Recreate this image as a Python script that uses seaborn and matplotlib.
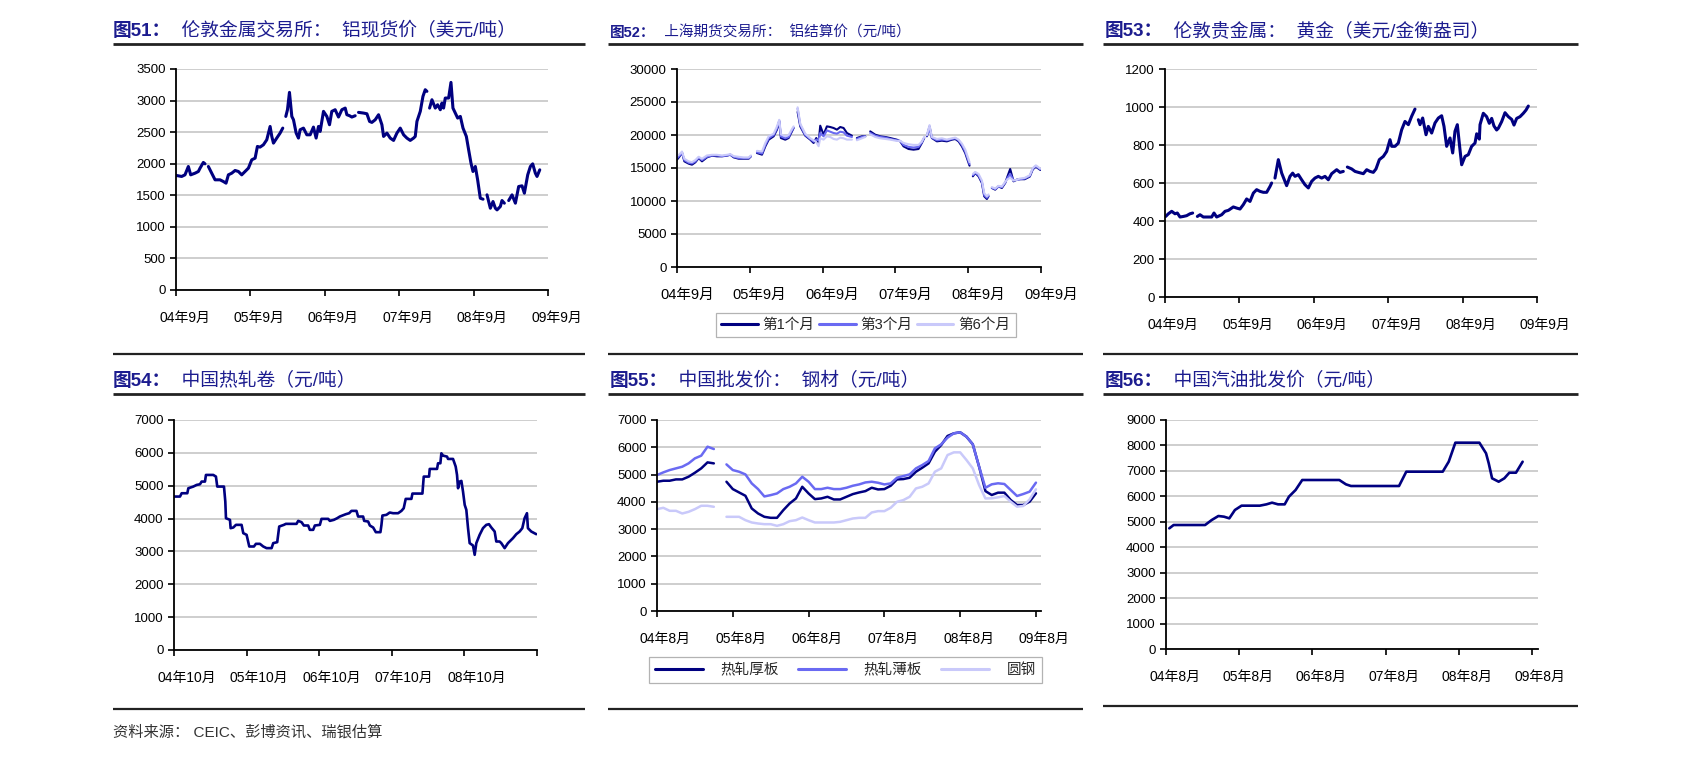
import numpy as np
import pandas as pd
import matplotlib
matplotlib.use("Agg")
import matplotlib.pyplot as plt
from matplotlib.lines import Line2D
from matplotlib.transforms import ScaledTranslation
import seaborn as sns

sns.set_theme(style="white")
plt.rcParams["font.family"] = ["Liberation Sans", "Noto Sans CJK SC", "DejaVu Sans"]
plt.rcParams["axes.unicode_minus"] = False

nan = np.nan

# ---------------- data (x = months since the first tick) ----------------
# Fig 51: LME aluminium spot (USD/t)
lme_al_m = [0.11, 0.91, 1.45, 1.99, 2.37, 3.07, 3.61, 3.88, 4.41, 4.68, nan,
            5.22, 5.76, 6.30, 7.10, 7.64, 8.07, 8.45, 8.99, 9.53, 10.06, 10.60, 11.14, 11.68, 12.22, 12.76,
            13.13, 13.56, 14.10, 14.64, 15.18, 15.45, 15.72, 16.25, 16.79, 17.22, nan,
            17.71, 17.98, 18.30, 18.68, 18.95, 19.38, 19.75, 20.02, 20.56, 21.10, 21.64, 22.17, 22.60, 22.98,
            23.25, 23.79, 24.33, 24.76, 25.13, 25.67, 26.21, 26.75, 27.29, 27.56, 27.99, 28.36, 28.90, nan,
            29.44, 30.25, 30.79, 31.22, 31.59, 32.13, 32.67, 33.21, 33.48, 34.02, 34.55, 35.09, 35.63, 36.17,
            36.71, 37.24, 37.78, 38.32, 38.59, 38.86, 39.40, 39.83, 40.20, 40.47, nan,
            40.90, 41.28, 41.82, 42.20, 42.63, 42.90, 43.16, 43.43, 43.97, 44.35, 44.67, 45.05, 45.43, 45.86,
            46.29, 46.83, 47.20, 47.58, 47.90, 48.28, 48.65, 49.08, 49.52, nan,
            50.16, 50.70, 51.13, 51.51, 51.78, 52.31, 52.58, 52.96, nan,
            53.66, 54.20, 54.74, 55.27, 55.81, 56.19, 56.73, 57.16, 57.53, 57.96, 58.23, 58.67]
lme_al_v = [1813, 1798, 1824, 1956, 1824, 1850, 1877, 1930, 2020, 1998, nan,
            1956, 1850, 1745, 1745, 1718, 1692, 1824, 1850, 1893, 1877, 1824, 1877, 1930, 2062, 2088,
            2273, 2263, 2300, 2379, 2590, 2432, 2326, 2406, 2485, 2564, nan,
            2749, 2855, 3130, 2749, 2696, 2485, 2406, 2538, 2564, 2458, 2458, 2580, 2406, 2590,
            2511, 2829, 2749, 2617, 2829, 2855, 2739, 2855, 2881, 2776, 2760, 2739, 2760, nan,
            2813, 2802, 2791, 2670, 2654, 2696, 2776, 2617, 2432, 2485, 2406, 2369, 2485, 2564,
            2458, 2406, 2369, 2406, 2432, 2670, 2829, 3066, 3172, 3146, nan,
            2881, 3013, 2881, 2934, 2855, 2961, 2881, 3040, 3040, 3288, 2881, 2802, 2723, 2749,
            2564, 2432, 2220, 2009, 1877, 1956, 1745, 1454, 1438, nan,
            1507, 1295, 1401, 1295, 1269, 1322, 1417, 1375, nan,
            1417, 1507, 1375, 1639, 1650, 1533, 1824, 1956, 1998, 1850, 1798, 1903]

# Fig 52: SHFE aluminium settlement (CNY/t), three contracts
shfe_m = [0, 0.44, 0.82, 1.21, 1.92, 2.47, 3.02, 3.57, 4.12, 4.94, 5.77, 6.59, 7.41, 8.24, 8.79, 9.34,
          10.16, 10.98, 11.81, 12.19, nan,
          13.18, 14.01, 14.56, 15.11, 15.93, 16.48, 16.86, 17.13, 17.85, 18.40, 18.95, 19.22, nan,
          19.88, 20.32, 21.14, 21.97, 22.52, 22.96, 23.34, 23.61, 24.16, 24.71, 25.26, 25.81, 26.36, 26.91,
          27.46, 28.01, 28.83, nan,
          29.65, 30.48, 31.03, nan,
          31.85, 32.67, 33.50, 34.32, 35.14, 36.24, 36.79, 37.34, 38.17, 38.99, 39.81, 40.36, 40.75, nan,
          41.19, 41.63, 42.01, 42.84, 43.66, 44.48, 45.31, 45.86, 46.41, 46.96, 47.51, 48.22, nan,
          48.77, 49.16, 49.71, 50.26, 50.64, 51.08, 51.35, nan,
          51.90, 52.45, 53.00, 53.55, 54.10, 54.48, 54.92, 55.47, 56.02, 56.5, 57.3, 58.15, 58.65, 59.15, 59.6, 59.9]
shfe_1m = [16260, 16770, 17370, 16010, 15660, 15500, 15860, 16510, 16010, 16610, 16870, 16770, 16770, 16870,
           17020, 16610, 16410, 16410, 16410, 16770, nan,
           17270, 17020, 18280, 19290, 19800, 20810, 22070, 19540, 19290, 19540, 20550, 21060, nan,
           23500, 21300, 19900, 19290, 18790, 19540, 18790, 21410, 20050, 21310, 21210, 21060, 20810, 21210,
           21060, 20300, 19900, nan,
           19540, 19800, 19800, nan,
           20550, 20050, 19800, 19700, 19540, 19290, 19040, 18280, 17880, 17780, 17880, 18790, 19540, nan,
           19800, 21310, 19540, 19040, 19140, 19040, 19290, 19390, 19040, 18280, 17270, 15350, nan,
           13740, 14240, 13740, 12730, 10710, 10300, 10710, nan,
           11970, 11720, 12220, 11970, 12730, 13740, 14850, 12980, 13230, 13300, 13300, 13700, 14800, 15200, 14900, 14700]
shfe_3m = [16500, 16900, 17300, 16200, 15800, 15700, 16000, 16600, 16200, 16700, 16900, 16900, 16800, 16900,
           17000, 16700, 16500, 16500, 16500, 16800, nan,
           17400, 17200, 18500, 19500, 20000, 21000, 22200, 19800, 19500, 19700, 20700, 21100, nan,
           24000, 21500, 20000, 19400, 19000, 19300, 19200, 20300, 19800, 20700, 20500, 20300, 20200, 20500,
           20400, 19900, 19700, nan,
           19400, 19700, 19800, nan,
           20300, 19900, 19700, 19600, 19400, 19200, 19100, 18500, 18200, 18100, 18200, 18900, 19600, nan,
           19900, 21000, 19600, 19200, 19300, 19200, 19400, 19500, 19200, 18500, 17500, 15600, nan,
           13900, 14300, 13900, 12900, 10900, 10500, 10800, nan,
           12000, 11800, 12200, 12100, 12800, 13500, 14100, 13100, 13200, 13300, 13400, 13800, 14900, 15300, 15000, 14800]
shfe_6m = [16800, 17100, 17500, 16400, 16000, 15900, 16200, 16700, 16400, 16900, 17000, 17000, 16900, 17000,
           17100, 16800, 16700, 16600, 16600, 16900, nan,
           17600, 17500, 18800, 19800, 20200, 21300, 22300, 20100, 19800, 20000, 20900, 21300, nan,
           24200, 21700, 20200, 19500, 19200, 18900, 18300, 19500, 19300, 19800, 19700, 19400, 19300, 19600,
           19500, 19300, 19300, nan,
           19200, 19500, 19700, nan,
           20100, 19700, 19500, 19400, 19300, 19100, 19100, 18800, 18600, 18500, 18500, 19000, 19700, nan,
           20000, 21500, 19700, 19400, 19500, 19300, 19500, 19600, 19300, 18700, 17800, 15900, nan,
           14100, 14400, 14100, 13100, 11200, 10700, 11000, nan,
           12100, 11900, 12300, 12200, 12900, 13300, 13500, 13100, 13200, 13400, 13500, 13900, 15000, 15400, 15100, 14900]
shfe_names = ["第1个月", "第3个月", "第6个月"]

# Fig 53: London gold (USD/oz)
gold_m = [0.11, 0.54, 1.08, 1.61, 1.99, 2.42, 2.96, 3.49, 4.03, 4.46, nan,
          5.22, 5.65, 6.18, 6.99, 7.53, 7.90, 8.33, 9.14, 9.68, 10.22, 11.02, 11.56, 12.10, 12.63, 13.17,
          13.71, 14.25, 14.78, 15.32, 15.86, 16.40, 16.94, 17.20, nan,
          17.74, 18.28, 18.82, 19.62, 20.16, 20.59, 20.97, 21.51, 22.04, 22.58, 23.12, 23.66, 24.19, 24.73,
          25.27, 25.81, 26.34, 26.88, 27.69, 28.23, 28.76, nan,
          29.41, 30.11, 30.65, 31.18, 31.99, 32.53, 33.06, 33.60, 34.03, 34.57, 35.22, 35.75, 36.29, 36.56,
          37.10, 37.63, 38.17, 38.71, 39.25, 39.78, 40.32, nan,
          40.86, 41.13, 41.56, 42.10, 42.47, 43.01, 43.55, 44.09, 44.62, 45.00, 45.43, 45.97, 46.40, 46.77,
          47.15, 47.58, 47.85, 48.39, 48.92, 49.46, 50.00, 50.27, 50.70, 50.81, 51.34, 51.88, 52.31, 52.69,
          53.06, 53.49, 53.76, 54.30, 54.84, 55.38, 55.91, 56.29, 56.72, 57.26, 57.80, 58.23, 58.60]
gold_v = [424, 438, 451, 438, 442, 421, 424, 428, 438, 442, nan,
          424, 433, 421, 421, 421, 442, 421, 433, 451, 456, 474, 468, 463, 486, 516,
          503, 547, 565, 556, 551, 551, 582, 600, nan,
          626, 723, 652, 586, 635, 652, 635, 644, 617, 591, 574, 609, 626, 635,
          626, 635, 617, 649, 670, 656, 661, nan,
          684, 674, 661, 656, 649, 670, 661, 656, 674, 723, 740, 766, 828, 793,
          793, 810, 880, 924, 907, 951, 989, nan,
          933, 907, 942, 854, 898, 863, 916, 942, 954, 898, 793, 837, 758, 872,
          907, 775, 696, 740, 749, 793, 810, 859, 831, 907, 967, 949, 914, 940,
          900, 879, 888, 923, 970, 949, 935, 905, 940, 949, 967, 984, 1005]

# Fig 54: China hot-rolled coil (CNY/t)
hrc_m = [0, 0.99, 1.27, 2.20, 2.37, 3.19, 3.74, 4.29, 4.57, 5.12, 5.28, 6.49, 6.93, 7.15, 8.26, 8.48, 8.59,
         9.25, 9.36, 9.80, 10.24, 11.17, 11.45, 12.00, 12.44, 13.21, 13.54, 14.20, 14.75, 15.30, 16.13, 16.40,
         17.06, 17.39, 18.16, 18.49, 20.25, 20.53, 21.08, 21.46, 22.18, 22.45, 23.00, 23.28, 24.11, 24.38,
         25.48, 25.76, 26.42, 26.97, 27.41, 28.40, 28.95, 29.33, 30.16, 30.43, 31.26, 31.43, 32.09, 32.37,
         32.92, 33.36, 34.12, 34.29, 34.45, 35.11, 35.66, 36.21, 37.04, 37.59, 37.97, 38.30, 39.24, 39.41,
         41.06, 41.28, 42.16, 42.27, 43.48, 43.64, 44.03, 44.19, 44.47, 45.13, 45.29, 46.12, 46.56, 46.78,
         46.95, 47.22, 47.50, 47.77, 48.05, 48.32, 48.60, 48.87, 49.42, 49.70, 49.97, 50.52, 51.07, 51.62,
         52.06, 52.45, 53.00, 53.27, 53.82, 54.10, 54.65, 55.20, 56.03, 56.58, 57.13, 57.57, 57.95, 58.34,
         58.50, 59.05, 59.88]
hrc_v = [4670, 4670, 4771, 4771, 4923, 4974, 5024, 5044, 5126, 5126, 5328, 5328, 5278, 4974, 4974, 4518, 4011,
         3961, 3708, 3728, 3809, 3809, 3556, 3505, 3150, 3150, 3231, 3231, 3150, 3100, 3100, 3252,
         3282, 3758, 3809, 3839, 3839, 3930, 3890, 3789, 3789, 3657, 3657, 3789, 3809, 3991,
         3991, 3930, 3961, 4011, 4062, 4133, 4163, 4234, 4234, 4062, 4062, 3930, 3910, 3789,
         3728, 3586, 3586, 3809, 4093, 4113, 4184, 4163, 4163, 4234, 4315, 4599, 4599, 4761,
         4761, 5278, 5278, 5511, 5511, 5683, 5683, 5987, 5916, 5886, 5815, 5815, 5582, 5328,
         4923, 5126, 5146, 4822, 4417, 4265, 3708, 3252, 3181, 2897, 3252, 3505, 3708, 3809,
         3829, 3728, 3606, 3302, 3302, 3252, 3100, 3252, 3404, 3525, 3606, 3708, 4011, 4163,
         3708, 3606, 3525]

# Fig 55: China wholesale steel prices (CNY/t), monthly
steel_m = list(range(61))
steel_thick = [4737, 4774, 4774, 4823, 4823, 4921, 5067, 5227, 5447, 5410, nan,
               4737, 4468, 4345, 4223, 3758, 3574, 3452, 3415, 3415, 3696,
               3941, 4125, 4553, 4308, 4100, 4125, 4186, 4088, 4088, 4186,
               4284, 4345, 4394, 4517, 4455, 4468, 4590, 4823, 4835, 4884,
               5104, 5251, 5410, 5838, 6083, 6414, 6512, 6549, 6389, 6108,
               5288, 4394, 4251, 4337, 4337, 4068, 3885, 3885, 4007, 4313]
steel_thin = [4982, 5080, 5165, 5227, 5288, 5410, 5594, 5692, 6022, 5936, nan,
              5373, 5165, 5104, 5006, 4676, 4468, 4198, 4247, 4308, 4468,
              4553, 4676, 4920, 4737, 4468, 4468, 4517, 4468, 4468, 4517,
              4590, 4639, 4712, 4737, 4700, 4639, 4676, 4884, 4945, 5006,
              5227, 5349, 5496, 5961, 6108, 6353, 6512, 6549, 6389, 6108,
              5288, 4517, 4643, 4680, 4655, 4435, 4215, 4288, 4374, 4704]
steel_round = [3733, 3782, 3672, 3672, 3574, 3635, 3733, 3856, 3856, 3819, nan,
               3452, 3452, 3452, 3329, 3244, 3207, 3182, 3182, 3121, 3182,
               3293, 3329, 3427, 3329, 3244, 3244, 3244, 3244, 3268, 3329,
               3390, 3415, 3415, 3611, 3660, 3660, 3782, 4002, 4064, 4186,
               4492, 4553, 4676, 5104, 5227, 5716, 5814, 5814, 5533, 5227,
               4615, 4125, 4130, 4166, 4215, 4007, 3824, 3849, 4093, 4460]
steel_names = ["热轧厚板", "热轧薄板", "圆钢"]

# Fig 56: China gasoline wholesale (CNY/t)
gas_m = [0.54, 1.25, 6.41, 7.50, 8.59, 9.51, 10.38, 11.30, 12.39, 15.38, 16.47, 17.39, 18.37, 19.46, 20.16,
         21.25, 22.34, 28.42, 29.51, 30.33, 38.21, 39.40, 45.38, 46.36, 47.45, 51.39, 52.48, 52.92, 53.47,
         54.55, 55.48, 56.30, 57.39, 58.48]
gas_v = [4742, 4873, 4873, 5070, 5227, 5200, 5135, 5463, 5633, 5633, 5685, 5751, 5685, 5685, 5987,
         6249, 6642, 6642, 6471, 6406, 6406, 6969, 6969, 7362, 8109, 8108, 7691, 7298, 6708,
         6575, 6708, 6929, 6929, 7361]

labels_sep = ["04年9月", "05年9月", "06年9月", "07年9月", "08年9月", "09年9月"]
labels_oct = ["04年10月", "05年10月", "06年10月", "07年10月", "08年10月", ""]
labels_aug = ["04年8月", "05年8月", "06年8月", "07年8月", "08年8月", "09年8月"]

titles = [("图51：", "  伦敦金属交易所：  铝现货价（美元/吨）"),
          ("图52：", "  上海期货交易所：  铝结算价（元/吨）"),
          ("图53：", "  伦敦贵金属：  黄金（美元/金衡盎司）"),
          ("图54：", "  中国热轧卷（元/吨）"),
          ("图55：", "  中国批发价：  钢材（元/吨）"),
          ("图56：", "  中国汽油批发价（元/吨）")]
source = "资料来源： CEIC、彭博资讯、瑞银估算"

# ---------------- styling ----------------
NAVY = "#000080"
MED = "#6a6af2"
LIGHT = "#c9c9fa"
TITLE_C = "#1c1c8f"
GRID_C = "#c6c6c6"

W, H = 1684, 761
fig = plt.figure(figsize=(W / 100, H / 100), dpi=100)
fig.patch.set_facecolor("white")


def ax_at(l, t, r, b):
    return fig.add_axes([l / W, 1 - b / H, (r - l) / W, (b - t) / H])


def seg_frame(m, v, name=None):
    df = pd.DataFrame({"m": m, "v": v})
    df["seg"] = df["v"].isna().cumsum()
    df = df.dropna().reset_index(drop=True)
    if name is not None:
        df["s"] = name
    return df


def draw(ax, m, v, color, lw):
    df = seg_frame(m, v)
    sns.lineplot(data=df, x="m", y="v", units="seg", estimator=None, sort=False,
                 color=color, lw=lw, ax=ax, legend=False, solid_joinstyle="round")


def style(ax, ymax, ystep, labels, xr=60, xfs=10):
    ax.set_xlim(0, xr)
    ax.set_ylim(0, ymax)
    ax.set_yticks(np.arange(0, ymax + 1, ystep))
    ax.set_yticklabels([f"{int(t)}" for t in np.arange(0, ymax + 1, ystep)])
    ax.set_xticks([0, 12, 24, 36, 48, 60])
    ax.set_xticklabels(labels)
    ax.set_xlabel("")
    ax.set_ylabel("")
    ax.grid(False)
    ax.yaxis.grid(True, color=GRID_C, lw=1.2)
    ax.set_axisbelow(True)
    for s in ["top", "right"]:
        ax.spines[s].set_visible(False)
    for s in ["left", "bottom"]:
        ax.spines[s].set_color("black")
        ax.spines[s].set_linewidth(1.3)
    ax.tick_params(axis="both", which="major", direction="out", length=4.5, width=1.2,
                   color="black", labelcolor="black", bottom=True, left=True)
    ax.tick_params(axis="y", labelsize=9.5, pad=3)
    ax.tick_params(axis="x", labelsize=xfs, pad=10.5)
    off = ScaledTranslation(-17 / 100, 0, fig.dpi_scale_trans)
    for lab in ax.get_xticklabels():
        lab.set_horizontalalignment("left")
        lab.set_transform(lab.get_transform() + off)


def hline(x0, x1, y, lw=1.8, c="#222222"):
    fig.add_artist(Line2D([x0 / W, x1 / W], [1 - y / H, 1 - y / H], color=c, lw=lw,
                          transform=fig.transFigure, solid_capstyle="butt"))


renderer = fig.canvas.get_renderer()


def title(x, y, pre, rest, size):
    t = fig.text(x / W, 1 - y / H, pre, fontsize=size, fontweight="bold", color=TITLE_C,
                 va="center", ha="left")
    bb = t.get_window_extent(renderer)
    fig.text(bb.x1 / W, 1 - y / H, rest, fontsize=size, color=TITLE_C, va="center", ha="left")


# Panel 1
ax1 = ax_at(176, 69, 548, 290)
draw(ax1, lme_al_m, lme_al_v, NAVY, 2.2)
style(ax1, 3500, 500, labels_sep)

# Panel 2
ax2 = ax_at(677, 69, 1041, 267)
for vals, c in zip([shfe_1m, shfe_3m, shfe_6m], [NAVY, MED, LIGHT]):
    draw(ax2, shfe_m, vals, c, 1.5)
style(ax2, 30000, 5000, labels_sep, xfs=10.5)
h2 = [Line2D([], [], color=c, lw=2.2) for c in [NAVY, MED, LIGHT]]
leg2 = fig.legend(h2, shfe_names, loc="upper left", bbox_to_anchor=(716 / W, 1 - 313 / H),
                  ncol=3, frameon=True, fancybox=False, edgecolor="#a0a0a0", fontsize=10.5,
                  handlelength=2.5, handletextpad=0.35, columnspacing=0.3, borderpad=0.35,
                  borderaxespad=0)
leg2.get_frame().set_linewidth(0.9)

# Panel 3
ax3 = ax_at(1165, 69, 1537, 297)
draw(ax3, gold_m, gold_v, NAVY, 2.2)
style(ax3, 1200, 200, labels_sep)

# Panel 4
ax4 = ax_at(174, 420, 537, 650)
draw(ax4, hrc_m, hrc_v, NAVY, 1.9)
style(ax4, 7000, 1000, labels_oct)

# Panel 5
ax5 = ax_at(657, 420, 1041, 611)
for vals, c in zip([steel_thick, steel_thin, steel_round], [NAVY, MED, LIGHT]):
    draw(ax5, steel_m, vals, c, 1.8)
style(ax5, 7000, 1000, labels_aug, xr=60.8)
h5 = [Line2D([], [], color=c, lw=2.2) for c in [NAVY, MED, LIGHT]]
leg5 = fig.legend(h5, steel_names, loc="upper left", bbox_to_anchor=(649 / W, 1 - 657 / H),
                  ncol=3, frameon=True, fancybox=False, edgecolor="#a0a0a0", fontsize=10.5,
                  handlelength=3.3, handletextpad=1.2, columnspacing=1.3, borderpad=0.4,
                  borderaxespad=0)
leg5.get_frame().set_linewidth(0.9)

# Panel 6
ax6 = ax_at(1166, 420, 1538, 649)
draw(ax6, gas_m, gas_v, NAVY, 1.9)
style(ax6, 9000, 1000, labels_aug, xr=61)

# Titles
title(113, 31, *titles[0], 13.5)
title(610, 33, *titles[1], 10.5)
title(1105, 31, *titles[2], 13.5)
title(113, 381, *titles[3], 13.5)
title(610, 381, *titles[4], 13.5)
title(1105, 381, *titles[5], 13.5)

# Rules
cols = [(113, 585), (608, 1083), (1103, 1578)]
for x0, x1 in cols:
    hline(x0, x1, 44, lw=2.0)
    hline(x0, x1, 354, lw=1.6)
    hline(x0, x1, 394, lw=2.0)
hline(113, 585, 709, lw=1.6)
hline(608, 1083, 709, lw=1.6)
hline(1103, 1578, 706, lw=1.6)

fig.text(113 / W, 1 - 732 / H, source, fontsize=11, color="#333333", va="center", ha="left")

fig.savefig("out.png", dpi=100, facecolor="white")
